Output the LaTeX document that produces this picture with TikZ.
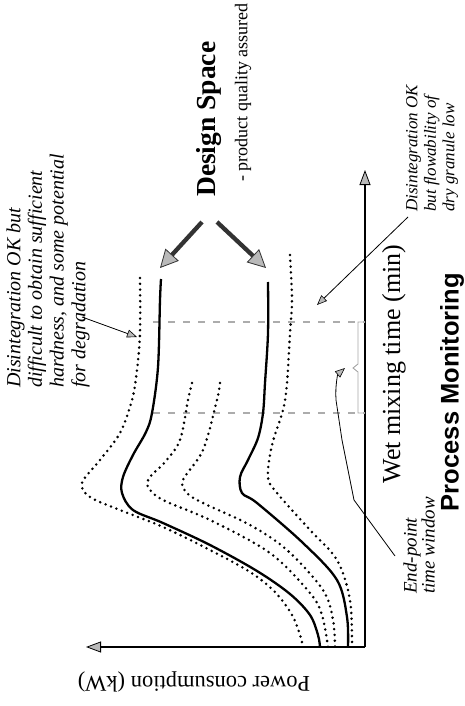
\documentclass[tikz,border=0pt]{standalone}
\usepackage{fontspec}
\setmainfont{Liberation Serif}
\newfontfamily\arialfont{Liberation Sans}
\usetikzlibrary{arrows.meta}
\begin{document}
\begin{tikzpicture}[x=1pt,y=-1pt,
  solidcurve/.style={line width=2.3pt, line join=round},
  dotcurve/.style={line width=2.8pt, line cap=round, dash pattern=on 0pt off 5.8pt},
  axisline/.style={line width=2.8pt, -{Triangle[length=15pt,width=11pt,fill=gray!55,line width=0.8pt]}},
  dsarrow/.style={line width=4.3pt, black!80, -{Triangle[length=18pt,width=18pt,fill=gray!55,line width=0.8pt]}},
  thinarrow/.style={line width=0.8pt, -{Triangle[length=10pt,width=8pt,fill=gray!55,line width=0.6pt]}},
  guide/.style={line width=1.3pt, gray!65, dash pattern=on 7pt off 8pt},
  itlab/.style={font=\itshape, align=left, inner sep=0pt, rotate=90},
  every node/.style={inner sep=0pt}
]
\useasboundingbox (0,0) rectangle (465,706);

% axes
\coordinate (origin) at (365,647);
\coordinate (ytip) at (86,647);
\coordinate (xtip) at (365,170);
\draw[axisline] (origin) -- (ytip);
\draw[axisline] (origin) -- (xtip);

% guide (dashed) lines
\coordinate (g1a) at (153,322); \coordinate (g1b) at (365,322);
\coordinate (g2a) at (153,413); \coordinate (g2b) at (365,413);
\draw[guide] (g1a) -- (g1b);
\draw[guide] (g2a) -- (g2b);

% end-point bracket
\draw[gray!70, line width=0.9pt] (365,322) -- (358,322) -- (358,364) -- (353,368) -- (358,372) -- (358,413) -- (365,413);

% curves
\draw[dotcurve] plot[smooth, tension=0.55] coordinates {(140,278) (140,333) (137,370) (132,400) (120,433) (100,460) (82,483) (90,497) (120,510) (163,527) (210,550) (250,572) (275,592) (292,615) (300,635) (303,647)};
\draw[solidcurve] plot[smooth, tension=0.55] coordinates {(161,279) (160,300) (158,367) (152,413) (146,432) (133,455) (123,477) (122,493) (133,510) (163,523) (210,545) (257,571) (290,594) (310,615) (318,635) (320,647)};
\draw[dotcurve] plot[smooth, tension=0.55] coordinates {(192,383) (188,400) (180,440) (165,462) (150,477) (148,487) (163,500) (210,520) (270,553) (310,593) (322,615) (328,647)};
\draw[dotcurve] plot[smooth, tension=0.55] coordinates {(220,383) (217,400) (203,450) (183,480) (187,493) (203,503) (250,525) (287,550) (323,590) (333,620) (335,647)};
\draw[solidcurve] plot[smooth, tension=0.55] coordinates {(268,282) (268,333) (265,383) (263,413) (258,438) (248,460) (240,477) (242,493) (257,503) (303,543) (337,580) (347,617) (348,647)};
\draw[dotcurve] plot[smooth, tension=0.55] coordinates {(290,255) (292,300) (290,333) (287,383) (283,410) (272,445) (268,477) (277,493) (310,530) (337,560) (350,600) (352,647)};

% labels
\node[rotate=180, font=\fontsize{22.5}{24}\selectfont] (ylab) at (194,682) {Power consumption (kW)};
\node[rotate=90, font=\fontsize{26}{28}\selectfont] (xlab) at (394,364) {Wet mixing time (min)};
\node[rotate=90, font=\arialfont\bfseries\fontsize{25.5}{28}\selectfont] (pm) at (452,392) {Process Monitoring};
\node[rotate=90, anchor=west, font=\bfseries\fontsize{27.5}{30}\selectfont] (ds) at (209,197) {Design Space};
\node[rotate=90, anchor=west, font=\fontsize{18}{20}\selectfont] (pq) at (243,182) {- product quality assured};
\node[itlab, anchor=west, font=\itshape\fontsize{20}{21.7}\selectfont] (leftlab) at (48,388) {Disintegration OK but\\difficult to obtain sufficient\\hardness, and some potential\\for degradation};
\node[itlab, anchor=west, font=\itshape\fontsize{17}{18.5}\selectfont] (rightlab) at (432,212) {Disintegration OK\\but flowability of\\dry granule low};
\node[itlab, anchor=west, font=\itshape\fontsize{19}{18}\selectfont] (eplab) at (419,594) {End-point\\time window};

% design space arrows
\coordinate (ds1s) at (202,222); \coordinate (ds1e) at (160,268);
\coordinate (ds2s) at (217,222); \coordinate (ds2e) at (266,268);
\draw[dsarrow] (ds1s) -- (ds1e);
\draw[dsarrow] (ds2s) -- (ds2e);

% annotation arrows
\coordinate (la) at (82,317); \coordinate (lb) at (137,337);
\draw[thinarrow] (la) -- (lb);
\coordinate (ra) at (408,217); \coordinate (rb) at (317,305);
\draw[thinarrow] (ra) -- (rb);
\coordinate (ea) at (395,556); \coordinate (eb) at (345,368);
\draw[thinarrow] (ea) -- (354,500) -- (342,440) -- (336,400) .. controls (335,385) and (338,374) .. (eb);
\end{tikzpicture}
\end{document}
